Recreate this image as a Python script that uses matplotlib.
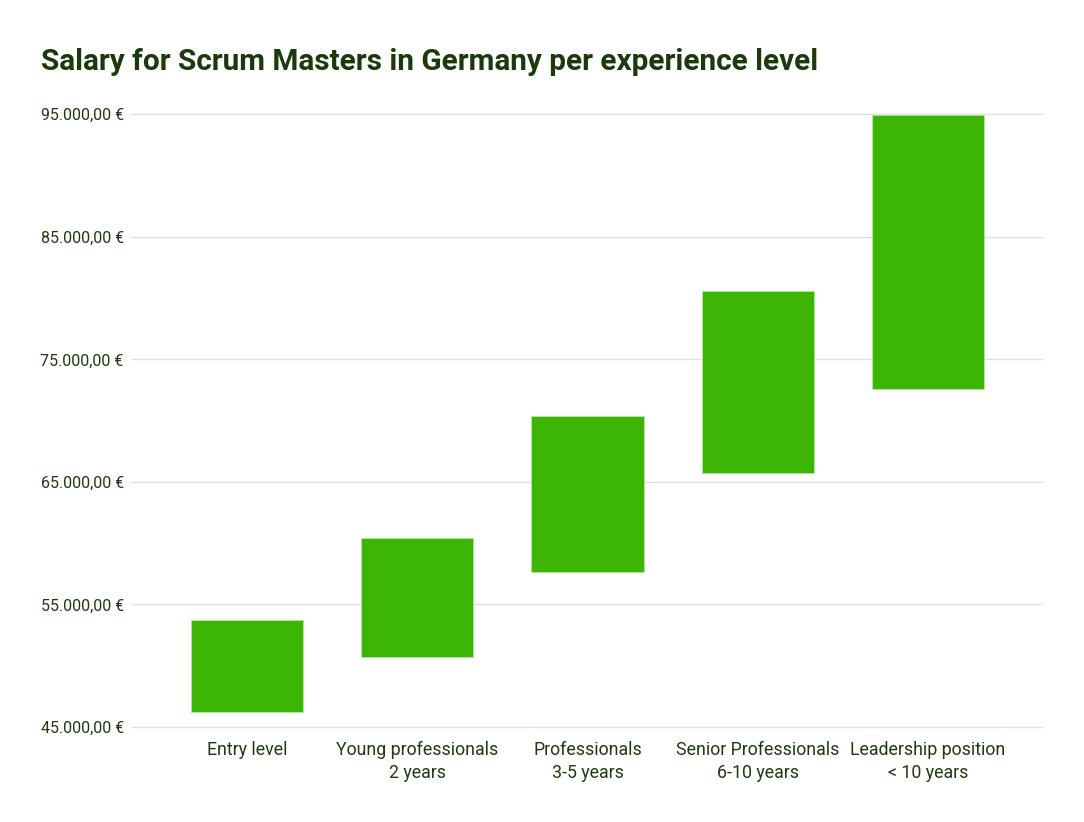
import matplotlib
matplotlib.use("Agg")
from matplotlib import pyplot as plt
from matplotlib.ticker import FuncFormatter

categories = ["Entry level", "Young professionals\n2 years", "Professionals\n3-5 years",
              "Senior Professionals\n6-10 years", "Leadership position\n< 10 years"]
salary_low = [46200, 50700, 57650, 65750, 72600]
salary_high = [53700, 60400, 70350, 80600, 94900]
yticks = [45000, 55000, 65000, 75000, 85000, 95000]

plt.rcParams['font.family'] = ['Roboto', 'DejaVu Sans']

text_col = "#1f3a12"

def euro(v, pos=None):
    s = "{:,.2f}".format(v).replace(",", "X").replace(".", ",").replace("X", ".")
    return s + " €"

def plotGehalt(save="out.png"):
    fig = plt.figure(figsize=(10.84, 8.22), dpi=100)
    ax = fig.add_axes([0.1218, 0.1156, 0.8395, 0.7454])
    x = range(len(categories))
    heights = [h - l for l, h in zip(salary_low, salary_high)]
    ax.bar(x, heights, bottom=salary_low, width=0.66, color="#3cb505",
           edgecolor="#b9e6a0", linewidth=0.6, zorder=3)
    ax.set_ylim(45000, 95000)
    ax.set_xlim(-0.675, 4.67)
    ax.set_yticks(yticks)
    ax.yaxis.set_major_formatter(FuncFormatter(euro))
    ax.set_xticks(list(x))
    ax.set_xticklabels(categories, fontsize=12.8, color=text_col, linespacing=1.36)
    ax.tick_params(axis="y", length=0, pad=6, labelsize=11.5, labelcolor=text_col)
    ax.tick_params(axis="x", length=0, pad=10)
    ax.grid(axis="y", color="#e0e0e0", linewidth=1, zorder=0)
    for gl in ax.get_ygridlines():
        gl.set_clip_on(False)
    for sp in ax.spines.values():
        sp.set_visible(False)
    fig.text(0.0378, 0.915, "Salary for Scrum Masters in Germany per experience level",
             fontsize=21.4, fontweight="bold", color="#1a3a0c", ha="left", va="baseline")
    fig.savefig(save, dpi=100)

if __name__ == '__main__':
    plotGehalt()
